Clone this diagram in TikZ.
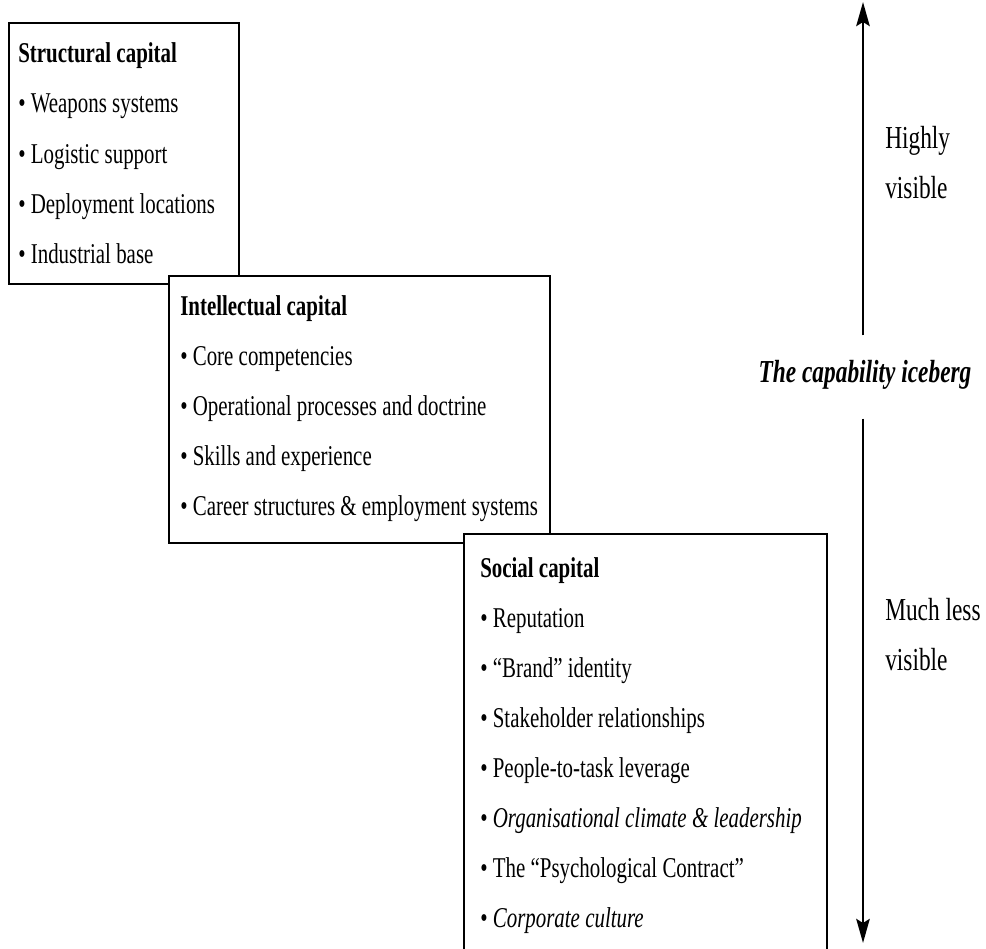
\documentclass[tikz,border=0pt]{standalone}
\usepackage{fontspec}
\setmainfont[FakeStretch=0.73]{Liberation Serif}
\usepackage{tikz}
\usetikzlibrary{
    arrows.meta,
    calc,
    positioning
}

\tikzset{
    box/.style={draw, line width=1.6pt, fill=white, anchor=north west, inner sep=0pt},
    entry/.style={anchor=base west, inner sep=0pt, font=\fontsize{21.5}{26}\selectfont},
    head/.style={entry, font=\fontsize{21.5}{26}\selectfont\bfseries},
    side/.style={anchor=base west, inner sep=0pt, font=\fontsize{24}{28}\selectfont},
    iceberg/.style={inner xsep=0pt, inner ysep=18pt, text height=17pt, text depth=9pt,
        font=\fontsize{24}{28}\selectfont\bfseries\itshape},
    visarrow/.style={->, line width=2.2pt}
}

\begin{document}
\begin{tikzpicture}[x=0.75pt, y=-0.75pt, >={Stealth[length=18pt, width=10pt, inset=3pt]}]
                        \useasboundingbox (0, 0) rectangle (986, 949);

                        \node[box, minimum width=172.5pt, minimum height=195.75pt] (structural) at (8, 22) {};
                        \node[head] (structuralhead) at (18, 63) {Structural capital};
                        \foreach \txt [count=\i] in {Weapons systems, Logistic support,
                            Deployment locations, Industrial base}
                            \node[entry] (structural\i) at (18, {63+50*\i}) {\textbullet\ \txt};

                        \node[box, minimum width=285.75pt, minimum height=200.25pt] (intellectual) at (168, 275) {};
                        \node[head] (intellectualhead) at (180, 315) {Intellectual capital};
                        \foreach \txt [count=\i] in {Core competencies, Operational processes and doctrine,
                            Skills and experience, Career structures \& employment systems}
                            \node[entry] (intellectual\i) at (180, {315+50*\i}) {\textbullet\ \txt};

                        \node[box, minimum width=272.25pt, minimum height=375pt] (social) at (463, 533) {};
                        \node[head] (socialhead) at (480, 577) {Social capital};
                        \foreach \txt [count=\i] in {Reputation, ``Brand'' identity,
                            Stakeholder relationships, People-to-task leverage,
                            \textit{Organisational climate \& leadership},
                            The ``Psychological Contract'', \textit{Corporate culture}}
                            \node[entry] (social\i) at (480, {577+50*\i}) {\textbullet\ \txt};

                        \node[iceberg] (title) at (865, 377) {The capability iceberg};
                        \coordinate (uptip) at (863, 2);
                        \coordinate (downtip) at (863, 943);
                        \draw[visarrow] (title.north -| uptip) -- (uptip);
                        \draw[visarrow] (title.south -| downtip) -- (downtip);

                        \node[side] (highly) at (885, 148) {Highly};
                        \node[side] (highlyvis) at (885, 198) {visible};
                        \node[side] (muchless) at (885, 620) {Much less};
                        \node[side] (muchlessvis) at (885, 670) {visible};
                    \end{tikzpicture}
\end{document}
